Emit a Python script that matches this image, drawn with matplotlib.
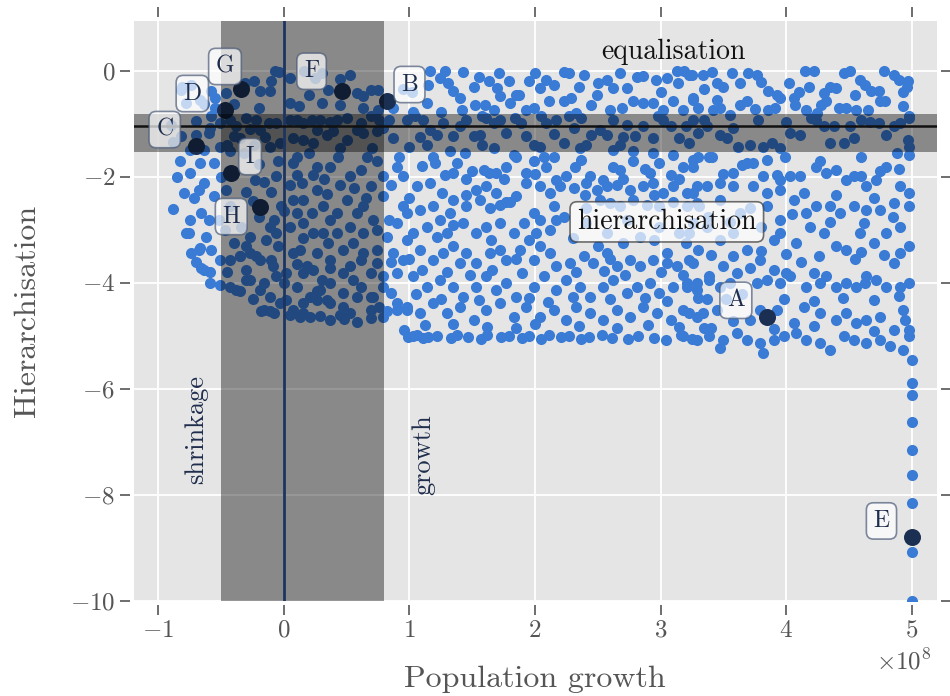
import matplotlib.pyplot as plt
import numpy as np

plt.style.use('ggplot')
plt.rcParams['font.family'] = 'serif'
plt.rcParams['font.serif'] = ['cmr10']
plt.rcParams['mathtext.fontset'] = 'cm'
plt.rcParams['axes.formatter.use_mathtext'] = True

# population growth in units of 1e8, hierarchisation score
arc_points = [
    (-0.07, -0.01), (0.05, -0.14), (-0.24, -0.20), (-0.31, -0.23), (-0.19, -0.39),
    (-0.11, -0.39), (0.16, -0.01), (0.25, -0.14), (0.35, -0.36), (0.45, -0.16),
    (0.53, -0.08), (0.58, -0.42), (0.63, -0.48), (0.69, -0.36), (0.75, -0.36),
    (0.75, -0.74), (0.63, -0.70), (0.87, -0.70), (0.95, -0.35), (1.02, -0.40),
    (1.03, -0.77), (1.14, -0.61), (-0.82, -0.36), (-0.78, -0.61), (-0.67, -0.55),
    (-0.58, -0.39), (-0.55, -0.52), (-0.46, -0.42), (-0.55, -0.70), (-0.81, -0.30),
    (-0.74, -0.27), (-0.64, -0.63), (0.30, -0.60), (0.12, -0.66), (-0.04, -0.03),
    (-0.82, -1.24), (-0.70, -1.21), (-0.59, -1.08), (-0.51, -0.99), (-0.43, -0.92),
    (-0.38, -1.05), (-0.30, -0.89), (-0.22, -0.92), (-0.12, -0.99), (-0.06, -0.99),
    (0.05, -0.92), (0.10, -0.92), (0.15, -0.99), (0.22, -0.92), (0.29, -0.92),
    (0.37, -0.96), (0.42, -0.92), (0.50, -0.89), (0.61, -0.99), (0.69, -0.86),
    (0.76, -0.92), (0.84, -0.92), (-0.60, -1.18), (-0.51, -1.43), (-0.40, -1.24),
    (-0.35, -1.27), (-0.24, -1.40), (-0.19, -1.11), (-0.11, -1.43), (-0.03, -1.37),
    (0.07, -1.27), (0.15, -1.30), (0.23, -1.37), (0.26, -1.11), (0.34, -1.21),
    (0.39, -1.14), (0.50, -1.30), (0.58, -1.11), (0.63, -1.18), (0.74, -1.14),
    (0.79, -1.08), (0.87, -1.27), (-0.75, -1.49), (-0.64, -1.49), (-0.43, -1.52),
    (-0.32, -1.55), (-0.90, -1.02), (-0.88, -1.35), (-0.58, -0.86), (-0.27, -1.10),
    (-0.83, -1.71), (-0.75, -1.92), (-0.67, -1.74), (-0.56, -1.74), (-0.23, -2.06),
    (-0.16, -2.09), (-0.10, -2.28), (-0.06, -1.99), (0.07, -1.74), (0.10, -1.96),
    (0.14, -2.12), (0.23, -1.96), (0.26, -1.81), (0.37, -1.81), (0.43, -1.62),
    (0.53, -1.99), (0.61, -1.87), (0.66, -1.62), (0.74, -1.71), (0.79, -1.99),
    (0.69, -2.18), (0.90, -1.81), (0.95, -1.99), (-0.80, -2.31), (-0.72, -2.40),
    (-0.64, -2.12), (-0.56, -2.37), (-0.46, -2.25), (-0.43, -2.56), (-0.11, -2.94),
    (-0.08, -2.81), (0.07, -2.43), (0.10, -2.69), (0.15, -2.43), (0.22, -2.69),
    (0.26, -2.25), (0.31, -2.56), (0.37, -2.81), (0.42, -2.69), (0.50, -2.43),
    (0.58, -2.69), (0.63, -2.56), (0.71, -2.81), (0.79, -2.37), (0.84, -2.81),
    (0.95, -2.56), (-0.78, -3.06), (-0.75, -2.81), (-0.66, -2.69), (-0.60, -2.81),
    (-0.62, -3.13), (-0.52, -2.81), (-0.34, -2.94), (-0.27, -3.13), (-0.14, -3.19),
    (-0.06, -3.06), (0.05, -2.94), (0.15, -2.87), (0.23, -3.06), (0.31, -3.06),
    (0.42, -3.06), (0.53, -2.94), (0.63, -3.06), (0.74, -3.00), (0.82, -3.13),
    (0.90, -2.87), (-0.30, -2.28), (-0.02, -2.55), (0.34, -2.33), (0.56, -2.22),
    (-0.74, -3.44), (-0.68, -3.38), (-0.58, -3.38), (-0.66, -3.72), (-0.59, -3.79),
    (-0.51, -3.57), (-0.43, -3.57), (-0.35, -3.50), (-0.27, -3.44), (-0.19, -3.57),
    (-0.09, -3.69), (-0.06, -3.88), (0.02, -3.82), (0.07, -3.44), (0.13, -3.38),
    (0.18, -3.69), (0.26, -3.44), (0.37, -3.57), (0.47, -3.38), (0.53, -3.69),
    (0.63, -3.44), (0.69, -3.82), (0.74, -3.63), (0.79, -3.88), (0.87, -3.44),
    (0.90, -3.82), (0.95, -3.57), (-0.43, -4.07), (-0.30, -3.94), (-0.19, -4.13),
    (-0.11, -4.26), (0.00, -4.01), (0.10, -4.07), (0.21, -4.26), (0.29, -4.13),
    (0.37, -4.01), (0.47, -4.20), (0.61, -4.07), (0.69, -4.26), (0.79, -4.07),
    (-0.35, -4.15), (-0.16, -4.51), (-0.08, -4.57), (0.02, -4.32), (0.07, -4.51),
    (0.15, -4.57), (0.26, -4.32), (0.37, -4.38), (0.47, -4.45), (0.58, -4.26),
    (0.69, -4.51), (0.76, -4.45), (0.90, -4.38), (0.98, -4.51), (-0.76, -3.06),
    (-0.67, -3.35), (-0.70, -3.60), (-0.64, -3.75), (-0.59, -4.01), (-0.51, -4.04),
    (-0.38, -4.13), (-0.27, -3.94), (-0.16, -4.01), (-0.18, -4.54), (-0.11, -4.54),
    (-0.03, -4.38), (0.05, -4.60), (0.13, -4.64), (0.21, -4.64), (0.29, -4.62),
    (0.37, -4.70), (0.45, -4.60), (0.53, -4.57), (0.58, -4.73), (0.69, -4.67),
    (0.79, -4.64), (0.82, -4.54), (0.90, -4.51), (-0.35, -3.50), (-0.22, -3.50),
    (-0.10, -3.57), (0.15, -3.82), (0.23, -3.75), (0.37, -3.72), (0.47, -3.82),
    (0.61, -3.57), (0.74, -3.38), (0.26, -4.16), (0.34, -4.32), (0.71, -4.26),
    (-0.85, -2.00), (-0.88, -2.60), (-0.47, -3.00), (-0.40, -3.25), (-0.20, -2.75),
    (-0.25, -2.45), (0.05, -2.15), (0.45, -2.15), (0.85, -2.15), (0.85, -3.60),
    (0.55, -3.25), (0.35, -3.25), (0.15, -3.15), (-0.05, -3.30), (-0.45, -3.80),
    (-0.30, -3.75), (0.10, -3.65), (0.55, -3.95), (0.30, -3.95), (0.85, -4.20),
    (-0.25, -4.30), (0.15, -4.38), (0.48, -4.68), (0.10, -1.62), (-0.20, -1.75),
    (-0.68, -2.25), (-0.50, -2.00), (-0.05, -1.70), (0.20, -1.55), (-0.15, -1.25),
    (0.45, -1.45), (0.70, -1.45), (-0.45, -1.40), (-0.70, -0.95), (-0.20, -0.70),
    (0.05, -0.60), (0.45, -0.65), (0.20, -0.45), (-0.40, -0.62), (-0.10, -0.20),
    (0.30, -0.05), (0.65, -2.40), (0.32, -2.05), (-0.30, -3.30), (0.00, -2.65),
]

block_points = [
    (1.16, -0.01), (1.28, -0.01), (1.24, -0.14), (1.31, -0.23), (1.43, -0.03),
    (1.55, -0.11), (1.51, -0.30), (1.63, -0.20), (1.79, -0.20), (1.87, -0.45),
    (1.95, -0.20), (2.04, -0.33), (2.09, -0.17), (2.15, -0.26), (2.23, -0.03),
    (2.27, -0.04), (2.39, -0.08), (2.50, -0.23), (2.57, -0.17), (2.62, -0.33),
    (2.73, -0.33), (2.81, -0.11), (2.86, -0.10), (2.96, -0.17), (3.05, -0.14),
    (3.13, -0.01), (3.14, -0.23), (3.23, -0.08), (1.15, -0.26), (1.71, -0.04),
    (3.19, -0.01), (3.25, -0.08), (3.34, -0.08), (3.41, -0.03), (3.45, -0.23),
    (3.50, -0.30), (3.57, -0.04), (3.63, -0.23), (3.70, -0.04), (3.77, -0.08),
    (3.86, -0.39), (3.93, -0.45), (4.02, -0.23), (4.15, -0.01), (4.18, -0.30),
    (4.22, -0.01), (4.30, -0.42), (4.35, -0.30), (4.40, -0.33), (4.46, -0.04),
    (4.51, -0.01), (4.59, -0.17), (4.63, -0.26), (4.68, -0.39), (4.74, -0.39),
    (4.78, -0.01), (4.86, -0.08), (4.90, -0.17), (4.96, -0.30), (4.97, -0.20),
    (4.93, -0.40),
    (3.26, -0.52), (3.30, -0.70), (3.42, -0.74), (3.47, -0.70), (3.55, -0.83),
    (3.63, -0.64), (3.69, -0.58), (3.86, -0.74), (3.91, -0.70), (3.95, -0.52),
    (4.06, -0.52), (4.07, -0.64), (4.16, -0.74), (4.28, -0.64), (4.32, -0.58),
    (4.42, -0.70), (4.48, -0.70), (4.56, -0.74), (4.75, -0.58), (4.79, -0.58),
    (4.93, -0.67), (4.98, -0.86),
    (1.40, -0.52), (1.42, -0.74), (1.52, -0.64), (1.60, -0.64), (1.67, -0.74),
    (1.72, -0.48), (1.80, -0.61), (1.85, -0.45), (1.93, -0.74), (1.99, -0.70),
    (2.11, -0.58), (2.23, -0.58), (2.29, -0.52), (2.33, -0.80), (2.49, -0.45),
    (2.60, -0.74), (2.69, -0.70), (2.78, -0.58), (2.86, -0.61), (2.94, -0.61),
    (3.02, -0.74), (3.10, -0.58), (3.18, -0.74), (3.26, -0.55),
    (1.35, -0.38), (1.70, -0.32), (2.00, -0.05), (2.35, -0.30), (2.68, -0.05),
    (3.00, -0.40), (1.25, -0.78), (1.58, -0.85), (2.05, -0.85), (2.45, -0.65),
    (2.98, -0.85), (3.35, -0.35), (3.80, -0.22), (4.10, -0.40), (4.55, -0.45),
    (3.75, -0.72), (4.25, -0.80), (4.65, -0.75), (3.45, -0.55),
    (0.98, -0.92), (1.04, -0.86), (1.11, -0.92), (1.16, -1.11), (1.22, -1.21),
    (1.27, -0.99), (1.35, -1.24), (1.45, -0.92), (1.51, -1.24), (1.56, -1.21),
    (1.61, -0.89), (1.67, -0.99), (1.72, -0.92), (1.77, -1.18), (1.84, -0.89),
    (1.89, -0.99), (1.93, -1.24), (1.99, -1.40), (2.04, -1.43), (2.09, -0.99),
    (2.17, -0.92), (2.23, -1.37), (2.27, -0.86), (2.31, -1.08), (2.37, -0.89),
    (2.41, -1.40), (2.45, -1.21), (2.52, -1.11), (2.57, -1.21), (2.62, -0.92),
    (2.68, -1.40), (2.73, -1.02), (2.80, -1.24), (2.86, -1.05), (2.94, -1.27),
    (3.02, -0.92), (3.08, -1.05), (3.15, -1.27), (3.23, -1.37), (3.30, -1.18),
    (1.00, -1.43), (1.14, -1.40), (1.32, -1.52), (1.67, -1.46), (1.83, -1.59),
    (2.15, -1.62), (2.36, -1.46), (2.62, -1.49), (2.78, -1.52), (2.94, -1.55),
    (3.10, -1.59), (1.08, -1.25), (1.40, -1.05), (1.58, -1.40), (2.15, -1.20),
    (2.70, -1.25), (3.20, -1.05),
    (3.26, -0.92), (3.35, -0.92), (3.37, -1.05), (3.47, -1.21), (3.53, -1.27),
    (3.58, -1.08), (3.62, -1.43), (3.71, -1.40), (3.78, -0.92), (3.82, -1.43),
    (3.89, -1.37), (3.95, -1.46), (4.00, -0.96), (4.03, -1.18), (4.11, -1.21),
    (4.20, -0.89), (4.24, -0.92), (4.30, -1.05), (4.38, -1.05), (4.35, -1.37),
    (4.46, -1.37), (4.51, -1.05), (4.54, -1.27), (4.60, -0.92), (4.67, -0.96),
    (4.74, -0.99), (4.80, -1.21), (4.86, -1.05), (4.91, -0.99), (4.97, -1.30),
    (4.98, -0.89), (4.98, -1.43), (3.30, -1.62), (3.41, -1.62), (3.69, -1.74),
    (3.85, -1.68), (3.99, -1.62), (4.27, -1.71), (4.60, -1.62), (4.75, -1.90),
    (4.88, -1.55), (4.98, -1.59),
    (0.92, -1.62), (1.19, -1.62), (1.20, -1.74), (1.38, -1.74), (1.44, -1.55),
    (1.35, -1.93), (1.28, -1.96), (1.50, -1.90), (1.59, -1.87), (1.63, -1.93),
    (1.69, -1.93), (1.77, -1.81), (1.85, -1.62), (1.93, -1.93), (1.99, -1.71),
    (2.07, -1.62), (2.09, -1.81), (2.17, -2.06), (2.25, -1.99), (2.32, -1.81),
    (2.37, -1.68), (2.44, -1.99), (2.54, -2.06), (2.62, -1.81), (2.68, -1.87),
    (2.78, -1.71), (2.92, -1.93), (2.99, -1.74), (3.08, -1.96), (3.18, -1.81),
    (3.26, -1.68), (1.10, -1.80), (1.45, -2.05), (1.75, -2.05), (2.00, -1.95),
    (2.70, -2.05), (2.88, -1.85), (3.15, -2.05),
    (1.06, -2.18), (1.16, -2.12), (1.26, -2.31), (1.35, -2.43), (1.53, -2.25),
    (1.61, -2.18), (1.69, -2.31), (1.77, -2.47), (1.85, -2.37), (1.93, -2.12),
    (2.04, -2.18), (2.12, -2.31), (2.20, -2.18), (2.31, -2.21), (2.41, -2.12),
    (2.49, -2.25), (2.57, -2.18), (2.65, -2.15), (2.76, -2.25), (2.86, -2.18),
    (2.94, -2.12), (3.02, -2.31), (3.10, -2.18), (3.21, -2.31), (3.29, -2.18),
    (1.00, -2.40), (1.45, -2.35), (2.40, -2.35), (2.95, -2.35),
    (0.98, -2.69), (1.08, -2.62), (1.19, -2.56), (1.24, -2.81), (1.32, -2.69),
    (1.45, -2.56), (1.56, -2.43), (1.64, -2.59), (1.72, -2.53), (1.80, -2.47),
    (1.99, -2.69), (2.04, -2.81), (2.15, -2.56), (2.23, -2.75), (2.41, -2.59),
    (2.52, -2.43), (2.60, -2.50), (2.68, -2.56), (2.78, -2.43), (2.89, -2.53),
    (2.99, -2.56), (3.10, -2.47), (3.21, -2.56), (3.29, -2.50),
    (1.03, -3.06), (1.14, -2.94), (1.22, -3.13), (1.30, -3.06), (1.43, -2.87),
    (1.53, -3.06), (1.61, -2.94), (1.72, -2.87), (1.83, -3.06), (1.91, -2.87),
    (2.01, -3.06), (2.12, -3.00), (2.17, -2.81), (2.41, -2.87), (2.57, -3.06),
    (2.73, -2.81), (2.84, -3.13), (2.99, -2.94), (3.15, -3.06), (3.26, -2.87),
    (1.35, -2.90), (1.65, -3.20), (1.95, -3.20), (2.30, -3.15), (2.50, -3.30),
    (2.70, -3.25), (2.95, -3.20), (3.20, -3.25),
    (3.26, -1.81), (3.39, -1.62), (3.58, -1.93), (3.65, -1.77), (3.74, -1.74),
    (3.82, -1.99), (3.93, -1.96), (4.03, -1.99), (4.11, -1.99), (4.24, -1.81),
    (4.32, -1.93), (4.40, -1.87), (4.48, -2.06), (4.54, -1.99), (4.64, -2.18),
    (4.72, -2.06), (4.80, -1.81), (4.91, -2.18), (4.98, -2.31), (3.26, -2.31),
    (3.37, -2.18), (3.47, -2.12), (3.58, -2.18), (3.74, -2.18), (3.85, -2.31),
    (3.95, -2.06), (4.14, -2.30), (4.40, -2.35), (4.70, -2.40), (3.50, -1.95),
    (3.95, -2.25), (4.60, -1.98), (4.90, -1.85),
    (3.31, -2.56), (3.47, -2.43), (3.63, -2.69), (3.71, -2.59), (3.85, -2.56),
    (3.95, -2.81), (4.06, -2.43), (4.16, -2.69), (4.24, -2.56), (4.35, -2.56),
    (4.43, -2.69), (4.54, -2.56), (4.64, -2.62), (4.75, -2.62), (4.86, -2.50),
    (4.98, -2.56), (3.23, -3.06), (3.37, -2.94), (3.47, -3.19), (3.58, -3.06),
    (3.69, -3.38), (3.90, -3.19), (3.95, -3.06), (4.08, -3.25), (4.19, -2.94),
    (4.30, -3.06), (4.40, -3.31), (4.48, -3.38), (4.59, -3.06), (4.70, -3.25),
    (4.80, -3.06), (4.91, -2.94), (4.98, -3.31), (4.91, -3.44),
    (3.38, -2.75), (3.55, -2.85), (3.80, -2.95), (4.05, -2.70), (4.35, -2.85),
    (4.62, -2.88), (4.85, -2.75),
    (0.98, -3.19), (1.08, -3.38), (1.19, -3.57), (1.27, -3.44), (1.35, -3.31),
    (1.45, -3.44), (1.53, -3.63), (1.64, -3.44), (1.72, -3.38), (1.77, -3.57),
    (1.88, -3.38), (1.99, -3.57), (2.04, -3.31), (2.12, -3.44), (2.17, -3.69),
    (2.28, -3.63), (2.39, -3.50), (2.46, -3.63), (2.57, -3.44), (2.65, -3.69),
    (2.76, -3.57), (2.84, -3.69), (2.94, -3.57), (3.05, -3.44), (3.13, -3.69),
    (3.23, -3.57), (3.30, -3.38), (1.00, -3.55), (1.40, -3.62), (1.85, -3.55),
    (2.60, -3.55), (3.05, -3.62),
    (1.10, -3.75), (1.30, -3.80), (1.48, -3.85), (1.66, -3.76), (1.90, -3.82),
    (2.33, -3.80), (2.55, -3.78), (2.72, -3.85), (3.00, -3.80), (3.18, -3.86),
    (1.03, -3.88), (1.14, -4.07), (1.24, -3.94), (1.35, -4.07), (1.43, -4.26),
    (1.53, -4.07), (1.61, -3.88), (1.69, -4.13), (1.77, -4.01), (1.85, -4.26),
    (1.99, -4.07), (2.07, -3.88), (2.17, -4.13), (2.25, -3.94), (2.36, -4.07),
    (2.44, -4.26), (2.54, -4.07), (2.62, -3.94), (2.73, -4.20), (2.81, -4.07),
    (2.92, -4.01), (2.99, -4.20), (3.10, -4.07), (3.21, -4.01), (3.29, -4.13),
    (1.05, -4.22), (1.25, -4.30), (1.55, -4.32), (1.95, -4.28), (2.10, -4.36),
    (2.30, -4.27), (2.60, -4.30), (2.88, -4.28), (3.05, -4.35), (3.37, -4.30),
    (0.98, -4.45), (1.08, -4.57), (1.19, -4.38), (1.30, -4.57), (1.40, -4.45),
    (1.51, -4.70), (1.61, -4.51), (1.72, -4.38), (1.83, -4.64), (1.93, -4.45),
    (2.04, -4.64), (2.15, -4.51), (2.25, -4.70), (2.33, -4.45), (2.44, -4.57),
    (2.54, -4.70), (2.65, -4.51), (2.76, -4.64), (2.86, -4.45), (2.97, -4.57),
    (3.08, -4.70), (3.18, -4.51), (3.29, -4.64),
    (1.12, -4.80), (1.35, -4.78), (1.62, -4.84), (1.85, -4.86), (2.00, -4.78),
    (2.35, -4.82), (2.65, -4.85), (2.90, -4.80), (3.15, -4.84), (3.35, -4.86),
    (0.96, -4.89), (1.03, -5.01), (1.11, -5.04), (0.99, -5.02), (1.06, -4.99),
    (1.15, -5.03), (1.22, -5.00), (1.33, -5.04), (1.38, -4.99), (1.47, -5.02),
    (1.57, -5.05), (1.62, -4.99), (1.73, -5.03), (1.79, -5.00), (1.90, -5.04),
    (1.95, -5.01), (2.05, -5.05), (2.11, -4.99), (2.21, -5.03), (2.27, -5.00),
    (2.37, -5.05), (2.43, -5.02), (2.53, -4.98), (2.61, -5.04), (2.74, -5.06),
    (2.82, -5.00), (2.95, -5.04), (3.04, -5.07), (3.16, -4.99), (3.25, -5.05),
    (3.26, -3.63), (3.39, -3.88), (3.50, -3.69), (3.61, -3.82), (3.71, -3.72),
    (3.79, -3.57), (3.90, -3.75), (4.00, -3.82), (4.22, -3.82), (4.32, -3.88),
    (4.64, -3.88), (4.86, -3.63), (4.55, -3.55), (4.12, -3.60),
    (3.40, -3.48), (3.58, -3.50), (3.80, -3.40), (4.00, -3.45), (4.26, -3.50),
    (4.60, -3.42), (4.78, -3.48),
    (3.21, -4.07), (3.29, -4.01), (3.39, -3.94), (3.47, -4.07), (3.55, -4.01),
    (3.77, -4.01), (3.85, -3.94), (3.95, -4.01), (4.03, -3.88), (4.16, -4.07),
    (4.27, -4.01), (4.40, -4.07), (4.48, -4.01), (4.56, -4.07), (4.63, -4.01),
    (4.72, -3.94), (4.80, -4.07), (4.91, -4.07), (4.98, -4.01),
    (3.30, -4.28), (3.52, -4.30), (3.65, -4.22), (3.98, -4.30), (4.22, -4.35),
    (4.45, -4.28), (4.70, -4.32), (4.90, -4.25),
    (3.23, -4.57), (3.34, -4.57), (3.45, -4.51), (3.71, -4.70), (3.79, -4.51),
    (3.93, -4.51), (4.06, -4.76), (4.14, -4.45), (4.27, -4.57), (4.40, -4.70),
    (4.48, -4.57), (4.56, -4.76), (4.64, -4.70), (4.75, -4.64), (4.86, -4.89),
    (4.93, -4.51), (4.98, -4.89), (3.40, -4.85), (3.90, -4.88), (4.22, -4.82),
    (4.70, -4.90), (4.95, -4.70),
    (3.18, -5.01), (3.29, -5.08), (3.39, -5.01), (3.50, -5.08), (3.61, -4.95),
    (3.69, -5.08), (3.79, -5.14), (3.90, -5.08), (3.98, -5.01), (4.08, -4.95),
    (4.16, -5.08), (4.27, -5.14), (4.35, -5.26), (4.46, -5.01), (4.54, -5.08),
    (4.64, -5.14), (4.75, -5.08), (4.83, -5.20), (4.93, -5.26), (4.98, -5.01),
    (3.82, -5.33), (3.47, -5.23), (3.58, -4.72),
]

tail_points = [
    (5.0, -5.45), (5.0, -5.88), (5.0, -6.11), (5.0, -6.62), (5.0, -7.16),
    (5.0, -7.62), (5.0, -8.16), (5.0, -9.08), (5.0, -10.0),
]

# highlighted cases
case_names = ['A', 'B', 'C', 'D', 'E', 'F', 'G', 'H', 'I']
case_x = [3.85, 0.82, -0.70, -0.47, 5.0, 0.46, -0.34, -0.19, -0.42]
case_y = [-4.64, -0.58, -1.42, -0.74, -8.79, -0.39, -0.34, -2.57, -1.92]

# label box centres relative to each case (growth, hierarchisation)
label_offsets = {
    'A': (-0.25, 0.31), 'B': (0.18, 0.32), 'C': (-0.25, 0.31),
    'D': (-0.26, 0.31), 'E': (-0.24, 0.30), 'F': (-0.24, 0.38),
    'G': (-0.13, 0.42), 'H': (-0.23, -0.18), 'I': (0.15, 0.30),
}

growth_band = (-0.5, 0.8)
hier_band = (-1.53, -0.81)
hier_mean = -1.04

arc = np.array(arc_points)
block = np.array(block_points)
tail = np.array(tail_points)
pts = np.vstack([arc, block, tail])

fig = plt.figure(figsize=(9.5, 6.96), dpi=100)
ax = fig.add_axes([0.141, 0.1365, 0.845, 0.8335])

blue = '#3a7bd5'
navy = '#1b2f52'
ax.scatter(pts[:, 0] * 1e8, pts[:, 1], s=64, color=blue, linewidths=0, zorder=2)
ax.scatter(np.array(case_x) * 1e8, case_y, s=150, color=navy, linewidths=0, zorder=3)

ax.axvspan(growth_band[0] * 1e8, growth_band[1] * 1e8, color='k', alpha=0.4, lw=0, zorder=4)
ax.axhspan(hier_band[0], hier_band[1], color='k', alpha=0.4, lw=0, zorder=4)
ax.axvline(0, color='#1c3461', lw=2, zorder=5)
ax.axhline(hier_mean, color='#111111', lw=1.8, zorder=5)

for name, cx, cy in zip(case_names, case_x, case_y):
    dx, dy = label_offsets[name]
    ax.text((cx + dx) * 1e8, cy + dy, name, ha='center', va='center',
            fontsize=17, color='#1f2d4d', zorder=6,
            bbox=dict(boxstyle='round,pad=0.3', fc='white', ec='#4a5a78',
                      lw=1.2, alpha=0.7))

ax.text(3.05e8, -2.85, 'hierarchisation', ha='center', va='center',
        fontsize=20, color='#111111', zorder=6,
        bbox=dict(boxstyle='round,pad=0.25', fc='white', ec='#333333',
                  lw=1.2, alpha=0.7))
ax.text(3.1e8, 0.36, 'equalisation', ha='center', va='center',
        fontsize=20, color='#111111', zorder=6)
ax.text(-0.70e8, -6.77, 'shrinkage', ha='center', va='center', rotation=90,
        fontsize=19, color='#1f2d4d', zorder=6)
ax.text(1.11e8, -7.25, 'growth', ha='center', va='center', rotation=90,
        fontsize=19, color='#1f2d4d', zorder=6)

ax.set_xlim(-1.195e8, 5.2e8)
ax.set_ylim(-10, 0.94)
ax.set_xticks(np.arange(-1, 6) * 1e8)
ax.set_yticks([0, -2, -4, -6, -8, -10])

for side in ['left', 'right', 'top', 'bottom']:
    ax.spines[side].set_visible(False)
    ax.spines[side].set_position(('outward', 3))
ax.tick_params(axis='both', which='major', direction='out', length=7,
               width=1.2, color='#555555', labelcolor='#555555', labelsize=18,
               top=True, right=True, labeltop=False, labelright=False)
ax.grid(True, color='white', lw=1.3)
ax.set_facecolor('#e5e5e5')

# scale factor of the growth axis, set just under the last tick label
ax.xaxis.get_offset_text().set_visible(False)
ax.text(0.959, -0.105, r'$\times10^{8}$', transform=ax.transAxes,
        ha='center', va='center', fontsize=18, color='#555555')

ax.set_xlabel('Population growth', fontsize=23, color='#555555', labelpad=17)
ax.set_ylabel('Hierarchisation', fontsize=23, color='#555555', labelpad=21)

fig.savefig('out.png', dpi=100)
